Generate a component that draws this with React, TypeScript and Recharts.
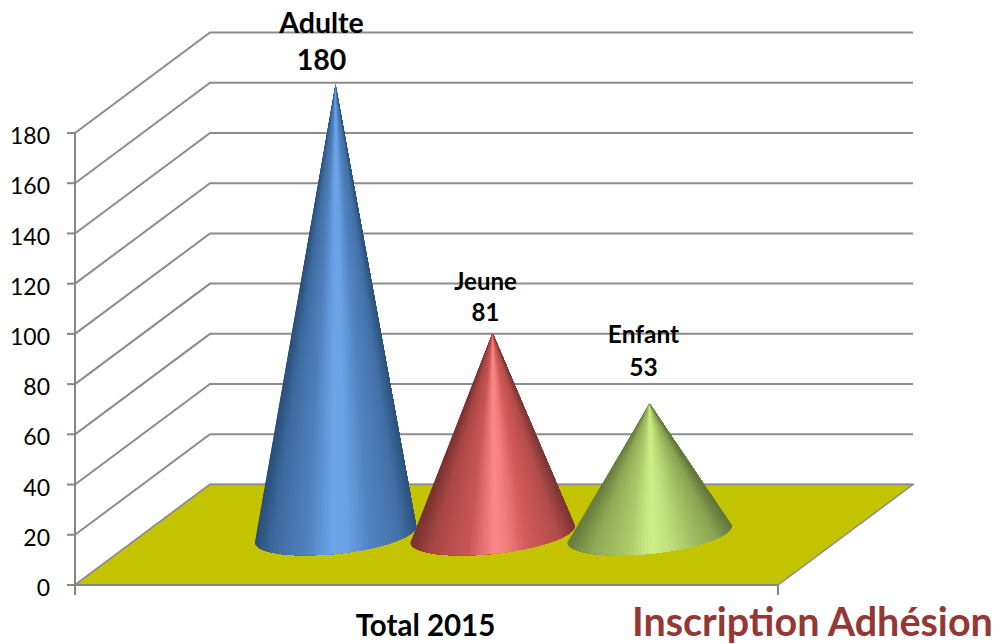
import { Bar, BarChart, CartesianGrid, LabelList, ReferenceArea, XAxis, YAxis } from "recharts"

const CATEGORIES = ["Total 2015"]
const SERIES_NAMES = ["Adulte", "Jeune", "Enfant"]
const SERIES_VALUES = [180, 81, 53]
const Y_TICKS = [0, 20, 40, 60, 80, 100, 120, 140, 160, 180]

const tableRow: Record<string, string | number> = { category: CATEGORIES[0] }
SERIES_NAMES.forEach((name, i) => {
  tableRow[name] = SERIES_VALUES[i]
})
const table = [tableRow]

const FONT = "Lato, sans-serif"
const AXIS_GRAY = "#868686"
const GRID_GRAY = "#8c8c8c"
const FLOOR = "#c3c300"
const TITLE_RED = "#953735"

// the fake 3D: how far the back wall sits from the front plane
const DEPTH_X = 135
const DEPTH_Y = 100.5
// cones stand in the middle of the floor
const CONE_DX = 66
const APEX_DY = -48.5
const BASE_DY = -51
const CONE_RY = 19.7
const CONE_TILT = (-6 * Math.PI) / 180
const CONE_SLICES = 72
// base overhang past the bar width, per cone
const CONE_OVERHANG = [2.5, 4, 4]

const PLOT_WIDTH = 703

// colour across the cone, left edge to right edge
type Stop = [number, number, number, number]
const BLUE_STOPS: Stop[] = [
  [0, 0x2b, 0x4f, 0x78],
  [0.1, 0x3d, 0x6a, 0x9e],
  [0.3, 0x50, 0x80, 0xbc],
  [0.47, 0x6c, 0xa4, 0xea],
  [0.56, 0x6a, 0xa2, 0xe6],
  [0.7, 0x53, 0x84, 0xc2],
  [0.9, 0x42, 0x70, 0xa6],
  [1, 0x2c, 0x52, 0x7c]
]
const RED_STOPS: Stop[] = [
  [0, 0x78, 0x33, 0x32],
  [0.12, 0xa8, 0x47, 0x45],
  [0.34, 0xc8, 0x56, 0x54],
  [0.5, 0xfd, 0x8a, 0x8a],
  [0.58, 0xf0, 0x7c, 0x7c],
  [0.7, 0xd4, 0x5c, 0x5a],
  [0.9, 0xb0, 0x4c, 0x4a],
  [1, 0x7c, 0x36, 0x34]
]
const GREEN_STOPS: Stop[] = [
  [0, 0x69, 0x7d, 0x3e],
  [0.14, 0x90, 0xa9, 0x56],
  [0.36, 0xae, 0xcb, 0x6a],
  [0.5, 0xcf, 0xf0, 0x88],
  [0.6, 0xc2, 0xe2, 0x7e],
  [0.74, 0xa6, 0xc4, 0x64],
  [0.9, 0x8a, 0xa3, 0x52],
  [1, 0x63, 0x76, 0x3b]
]
const SERIES_STOPS = [BLUE_STOPS, RED_STOPS, GREEN_STOPS]

// hand-placed data labels in the original: offset from the apex and font size
const LABEL_STYLES = [
  { dx: -14, nameDy: -52, valueDy: -15, fontSize: 28.5 },
  { dx: -7, nameDy: -43, valueDy: -12, fontSize: 24 },
  { dx: -6, nameDy: -60, valueDy: -27, fontSize: 24.5 }
]

function colorAt(stops: Stop[], t: number) {
  let i = 0
  while (i < stops.length - 2 && t > stops[i + 1][0]) i++
  const a = stops[i]
  const b = stops[i + 1]
  const k = Math.min(1, Math.max(0, (t - a[0]) / (b[0] - a[0])))
  const mix = (n: number) => Math.round(a[n] + (b[n] - a[n]) * k)
  return `rgb(${mix(1)},${mix(2)},${mix(3)})`
}

function Cone({ x, y, width, height, stops, overhang }: any) {
  const cx = x + width / 2 + CONE_DX
  const apexY = y + APEX_DY
  const baseY = y + height + BASE_DY
  const rx = width / 2 + overhang
  const cos = Math.cos(CONE_TILT)
  const sin = Math.sin(CONE_TILT)

  const edge: number[][] = []
  for (let i = 0; i <= CONE_SLICES; i++) {
    const a = Math.PI - (Math.PI * i) / CONE_SLICES
    const ex = rx * Math.cos(a)
    const ey = CONE_RY * Math.sin(a)
    edge.push([cx + ex * cos - ey * sin, baseY + ex * sin + ey * cos])
  }

  // each slice runs from its own edge point to the right end of the base and the
  // next one paints over it, so there are no seams between the streaks
  const slices = []
  for (let i = 0; i < CONE_SLICES; i++) {
    const t = (1 + Math.cos((Math.PI * (i + 0.5)) / CONE_SLICES)) / 2
    const pts = [[cx, apexY], ...edge.slice(i)]
    slices.push(
      <polygon
        key={i}
        points={pts.map((p) => p.join(",")).join(" ")}
        fill={colorAt(stops, 1 - t)}
      />
    )
  }
  return <g>{slices}</g>
}

function ConeLabel({ x, y, width, index, seriesIndex }: any) {
  const style = LABEL_STYLES[seriesIndex]
  const cx = x + width / 2 + CONE_DX + style.dx
  const apexY = y + APEX_DY
  const common = {
    x: cx,
    textAnchor: "middle" as const,
    fontFamily: FONT,
    fontWeight: 700,
    fontSize: style.fontSize,
    fill: "#000"
  }
  return (
    <g key={index}>
      <text {...common} y={apexY + style.nameDy}>
        {SERIES_NAMES[seriesIndex]}
      </text>
      <text {...common} y={apexY + style.valueDy}>
        {SERIES_VALUES[seriesIndex]}
      </text>
    </g>
  )
}

function WallLine({ x1, y1, x2 }: any) {
  const backY = y1 - DEPTH_Y
  return (
    <polyline
      points={`${x1},${y1} ${x1 + DEPTH_X},${backY} ${x2 + DEPTH_X},${backY}`}
      fill="none"
      stroke={GRID_GRAY}
      strokeWidth={2}
    />
  )
}

function Floor({ x, y, width, height }: any) {
  const bottom = y + height
  const points = [
    [x, bottom],
    [x + DEPTH_X, bottom - DEPTH_Y],
    [x + width + DEPTH_X, bottom - DEPTH_Y],
    [x + width, bottom]
  ]
  return (
    <polygon
      points={points.map((p) => p.join(",")).join(" ")}
      fill={FLOOR}
      stroke={GRID_GRAY}
      strokeWidth={1.5}
    />
  )
}

function CategoryTick({ x, y, payload }: any) {
  return (
    <g>
      <line x1={x - PLOT_WIDTH / 2} x2={x - PLOT_WIDTH / 2} y1={y} y2={y + 10} stroke={AXIS_GRAY} strokeWidth={2} />
      <line x1={x + PLOT_WIDTH / 2} x2={x + PLOT_WIDTH / 2} y1={y} y2={y + 10} stroke={AXIS_GRAY} strokeWidth={2} />
      <text x={x - 1} y={y + 51} textAnchor="middle" fontFamily={FONT} fontWeight={700} fontSize={29.5} fill="#000">
        {payload.value}
      </text>
    </g>
  )
}

export default function App() {
  return (
    <div style={{ position: "absolute", left: 0, top: 0, width: 997, height: 644, background: "#fff", overflow: "hidden" }}>
      <BarChart
        width={997}
        height={644}
        data={table}
        barSize={157}
        barGap={0}
        margin={{ top: 133, right: 219, bottom: 0, left: 25 }}
      >
        <CartesianGrid vertical={false} horizontal={(props: any) => <WallLine key={props.key} {...props} />} />
        <ReferenceArea y1={0} y2={20} shape={(props: any) => <Floor {...props} />} />
        <XAxis
          dataKey="category"
          height={59}
          tickLine={false}
          tickSize={0}
          tickMargin={0}
          axisLine={{ stroke: AXIS_GRAY, strokeWidth: 2 }}
          tick={(props: any) => <CategoryTick {...props} />}
        />
        <YAxis
          width={50}
          domain={[0, 180]}
          ticks={Y_TICKS}
          interval={0}
          tickSize={8}
          tickMargin={17}
          tickLine={{ stroke: AXIS_GRAY, strokeWidth: 2 }}
          axisLine={{ stroke: AXIS_GRAY, strokeWidth: 2 }}
          tick={{ fontFamily: FONT, fontSize: 23, fill: "#000", dy: 3 }}
        />
        {SERIES_NAMES.map((name, i) => (
          <Bar
            key={name}
            dataKey={name}
            isAnimationActive={false}
            shape={(props: any) => <Cone {...props} stops={SERIES_STOPS[i]} overhang={CONE_OVERHANG[i]} />}
          >
            <LabelList dataKey={name} content={(props: any) => <ConeLabel {...props} seriesIndex={i} />} />
          </Bar>
        ))}
      </BarChart>
      <div
        style={{
          position: "absolute",
          left: 632,
          top: 597,
          fontFamily: FONT,
          fontWeight: 700,
          fontSize: 39.5,
          lineHeight: "48px",
          color: TITLE_RED,
          whiteSpace: "nowrap"
        }}
      >
        Inscription Adhésion
      </div>
    </div>
  )
}
